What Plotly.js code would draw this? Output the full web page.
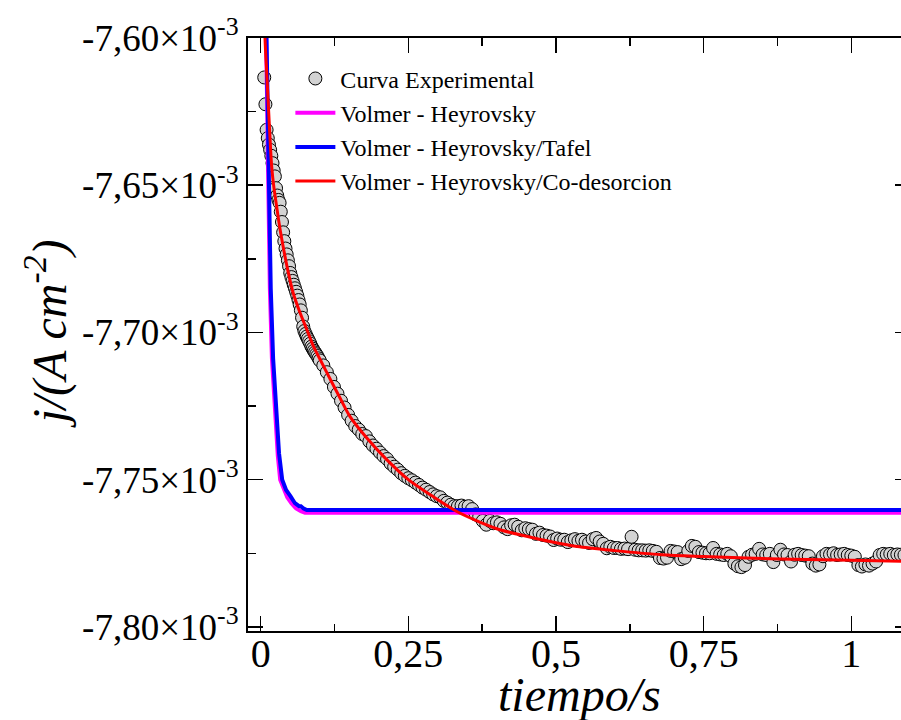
<!DOCTYPE html>
<html>
<head>
<meta charset="utf-8">
<script src="https://cdn.plot.ly/plotly-3.0.1.min.js"></script>
<style>
html,body{margin:0;padding:0;background:#fff;overflow:hidden;}
#chart{width:920px;height:720px;}
</style>
</head>
<body>
<div id="chart"></div>
<script>
// Current density values are in units of 1e-3 A cm^-2 (axis labels carry the ×10^-3)
const t_exp = [
0.006,0.008,0.010,0.012,0.014,0.016,0.018,0.020,0.022,0.024,0.026,0.028,0.030,0.032,0.034,0.036,0.038,0.040,0.042,0.044,
0.046,0.048,0.050,0.052,0.054,0.056,0.058,0.060,0.062,0.064,0.066,0.068,0.070,0.072,0.074,0.076,0.078,0.080,0.082,0.084,
0.086,0.088,0.090,0.092,0.094,0.096,0.098,0.100,
0.106,0.112,0.118,0.124,0.130,0.136,0.142,0.148,0.154,0.160,0.166,0.172,0.178,0.184,0.190,0.196,0.202,0.208,0.214,0.220,
0.226,0.232,0.238,0.244,0.250,0.256,0.262,0.268,0.274,0.280,0.286,0.292,0.298,0.304,0.310,0.316,0.322,0.328,0.334,0.340,
0.346,0.352,0.358,0.364,0.370,0.376,0.382,0.388,0.394,0.400,0.406,0.412,0.418,0.424,0.430,0.436,0.442,0.448,0.454,0.460,
0.466,0.472,0.478,0.484,0.490,0.496,0.502,0.508,0.514,0.520,0.526,0.532,0.538,0.544,0.550,0.556,
0.562,0.568,0.574,0.580,0.586,0.592,0.598,0.604,0.610,0.616,0.622,0.628,0.634,0.640,0.646,0.652,0.658,0.664,0.670,0.676,
0.682,0.688,0.694,0.700,0.706,0.712,0.718,0.724,0.730,0.736,0.742,0.748,0.754,0.760,0.766,0.772,0.778,0.784,0.790,0.796,
0.802,0.808,0.814,0.820,0.826,0.832,0.838,0.844,0.850,0.856,0.862,0.868,0.874,0.880,0.886,0.892,0.898,0.904,0.910,0.916,
0.922,0.928,0.934,0.940,0.946,0.952,0.958,0.964,0.970,0.976,0.982,0.988,0.994,1.000,1.006,1.012,1.018,1.024,1.030,1.036,
1.042,1.048,1.054,1.060,1.066,1.072,1.078,1.084,1.090
];
const j_exp = [
-7.6134,-7.6225,-7.6312,-7.6340,-7.6362,-7.6380,-7.6400,-7.6425,-7.6450,-7.6470,-7.6510,-7.6535,-7.6550,-7.6560,-7.6590,-7.6625,-7.6660,-7.6690,-7.6715,-7.6735,
-7.6755,-7.6775,-7.6798,-7.6812,-7.6825,-7.6838,-7.6850,-7.6862,-7.6875,-7.6890,-7.6905,-7.6925,-7.6950,-7.6980,-7.6995,-7.7005,-7.7014,-7.7022,-7.7030,-7.7038,
-7.7048,-7.7055,-7.7062,-7.7068,-7.7074,-7.7080,-7.7088,-7.7095,
-7.7112,-7.7135,-7.7158,-7.7185,-7.7208,-7.7232,-7.7255,-7.7280,-7.7300,-7.7318,-7.7330,-7.7345,-7.7352,-7.7370,-7.7384,-7.7395,-7.7408,-7.7420,-7.7430,-7.7445,
-7.7456,-7.7466,-7.7478,-7.7487,-7.7495,-7.7502,-7.7510,-7.7518,-7.7527,-7.7534,-7.7542,-7.7550,-7.7556,-7.7560,-7.7572,-7.7578,-7.7585,-7.7590,-7.7590,-7.7588,
-7.7592,-7.7590,-7.7600,-7.7618,-7.7625,-7.7640,-7.7653,-7.7640,-7.7648,-7.7645,-7.7650,-7.7662,-7.7668,-7.7655,-7.7653,-7.7660,-7.7672,-7.7665,-7.7668,-7.7670,
-7.7684,-7.7680,-7.7688,-7.7690,-7.7693,-7.7705,-7.7700,-7.7704,-7.7704,-7.7712,-7.7706,-7.7702,-7.7708,-7.7704,-7.7710,-7.7715,
-7.7702,-7.7698,-7.7710,-7.7718,-7.7733,-7.7728,-7.7732,-7.7732,-7.7735,-7.7734,-7.7736,-7.7694,-7.7738,-7.7740,-7.7740,-7.7741,-7.7740,-7.7742,-7.7745,-7.7766,
-7.7768,-7.7765,-7.7742,-7.7744,-7.7746,-7.7770,-7.7765,-7.7742,-7.7725,-7.7728,-7.7746,-7.7748,-7.7750,-7.7750,-7.7732,-7.7752,-7.7754,-7.7756,-7.7752,-7.7760,
-7.7785,-7.7794,-7.7797,-7.7790,-7.7762,-7.7755,-7.7752,-7.7735,-7.7754,-7.7756,-7.7752,-7.7780,-7.7756,-7.7738,-7.7754,-7.7756,-7.7778,-7.7755,-7.7752,-7.7756,
-7.7758,-7.7760,-7.7785,-7.7792,-7.7788,-7.7760,-7.7752,-7.7754,-7.7750,-7.7756,-7.7754,-7.7752,-7.7756,-7.7758,-7.7762,-7.7790,-7.7795,-7.7788,-7.7792,-7.7785,
-7.7778,-7.7756,-7.7752,-7.7754,-7.7752,-7.7756,-7.7754,-7.7755,-7.7756
];

// Volmer - Heyrovsky (magenta)
const t_vh = [0.004,0.009,0.012,0.0155,0.019,0.0245,0.029,0.033,0.039,0.045,0.052,0.060,0.068,0.075,0.090,1.100];
const j_vh = [-7.530,-7.600,-7.650,-7.685,-7.7087,-7.728,-7.742,-7.750,-7.7535,-7.756,-7.758,-7.7598,-7.7607,-7.7612,-7.7612,-7.7612];

// Volmer - Heyrovsky/Tafel (blue)
const t_vht = [0.004,0.010,0.013,0.017,0.021,0.026,0.031,0.0364,0.043,0.0506,0.058,0.065,0.068,0.072,0.078,1.100];
const j_vht = [-7.530,-7.600,-7.650,-7.685,-7.7087,-7.728,-7.741,-7.750,-7.7535,-7.7557,-7.758,-7.7590,-7.7590,-7.7597,-7.7603,-7.7603];

// Volmer - Heyrovsky/Co-desorcion (red)
const t_vhc = [0.004,0.0073,0.011,0.0145,0.0186,0.0225,0.027,0.032,0.038,0.046,0.055,0.066,0.078,0.090,0.104,0.118,0.135,0.151,0.179,0.210,0.250,0.290,0.332,0.370,0.405,0.450,0.490,0.536,0.600,0.679,0.750,0.822,0.900,1.000,1.100];
const j_vhc = [-7.575,-7.600,-7.615,-7.629,-7.6436,-7.651,-7.6572,-7.664,-7.6708,-7.679,-7.6866,-7.693,-7.699,-7.705,-7.7105,-7.716,-7.7225,-7.7285,-7.7357,-7.7425,-7.750,-7.7555,-7.7608,-7.7643,-7.767,-7.7692,-7.771,-7.7727,-7.7741,-7.7755,-7.7761,-7.7766,-7.777,-7.7774,-7.7778];

const seriesNames = ['Curva Experimental','Volmer - Heyrovsky','Volmer - Heyrovsky/Tafel','Volmer - Heyrovsky/Co-desorcion'];

const xTickVals = [0,0.25,0.5,0.75,1];
const xTickText = ['0','0,25','0,5','0,75','1'];
const yTickVals = [-7.80,-7.75,-7.70,-7.65,-7.60];
const yTickText = ['-7,80×10<sup>-3</sup>','-7,75×10<sup>-3</sup>','-7,70×10<sup>-3</sup>','-7,65×10<sup>-3</sup>','-7,60×10<sup>-3</sup>'];

const serif = 'Liberation Serif';

const traces = [
  {x:t_exp, y:j_exp, name:seriesNames[0], type:'scatter', mode:'markers',
   marker:{size:13, color:'#d3d3d3', line:{color:'#000', width:1}}},
  {x:t_vh, y:j_vh, name:seriesNames[1], type:'scatter', mode:'lines',
   line:{color:'#ff00ff', width:4}},
  {x:t_vht, y:j_vht, name:seriesNames[2], type:'scatter', mode:'lines',
   line:{color:'#0000ff', width:4}},
  {x:t_vhc, y:j_vhc, name:seriesNames[3], type:'scatter', mode:'lines',
   line:{color:'#ff0000', width:3, shape:'spline', smoothing:0.8}}
];

const layout = {
  width:920, height:720,
  font:{family:serif, color:'#000'},
  paper_bgcolor:'#fff', plot_bgcolor:'#fff',
  margin:{l:248, r:10, t:38, b:89},
  showlegend:true,
  legend:{x:0.064, y:0.969, xanchor:'left', yanchor:'top', bgcolor:'rgba(0,0,0,0)',
          font:{family:serif, size:24, color:'#000'}, itemwidth:40, tracegroupgap:0},
  xaxis:{range:[-0.0215,1.0994], tickvals:xTickVals, ticktext:xTickText,
         ticks:'inside', ticklen:15, tickwidth:1.5, tickcolor:'#000',
         showline:true, linewidth:2, linecolor:'#000', mirror:'allticks',
         showgrid:false, zeroline:false, ticklabelstandoff:-14,
         minor:{ticks:'inside', ticklen:7.5, tickwidth:1.5, tickcolor:'#000', dtick:0.125, tick0:0, showgrid:false},
         tickfont:{family:serif, size:40, color:'#000'}},
  yaxis:{range:[-7.8014,-7.60], tickvals:yTickVals, ticktext:yTickText,
         ticks:'inside', ticklen:15, tickwidth:1.5, tickcolor:'#000',
         showline:true, linewidth:2, linecolor:'#000', mirror:'allticks',
         showgrid:false, zeroline:false,
         minor:{ticks:'inside', ticklen:7.5, tickwidth:1.5, tickcolor:'#000', dtick:0.025, tick0:-7.6, showgrid:false},
         tickfont:{family:serif, size:37, color:'#000'}},
  annotations:[
    {text:'<i>tiempo/s</i>', xref:'paper', yref:'paper', x:0.5, y:0, xanchor:'center', yanchor:'middle',
     yshift:-63, showarrow:false, font:{family:serif, size:48, color:'#000'}},
    {text:'<i>j/(A cm</i><sup><i>-2</i></sup><i>)</i>', xref:'paper', yref:'paper', x:-0.305, y:0.5,
     xanchor:'center', yanchor:'middle', textangle:-90, showarrow:false,
     font:{family:serif, size:48, color:'#000'}}
  ]
};

Plotly.newPlot('chart', traces, layout, {displayModeBar:false, staticPlot:true});
</script>
</body>
</html>
